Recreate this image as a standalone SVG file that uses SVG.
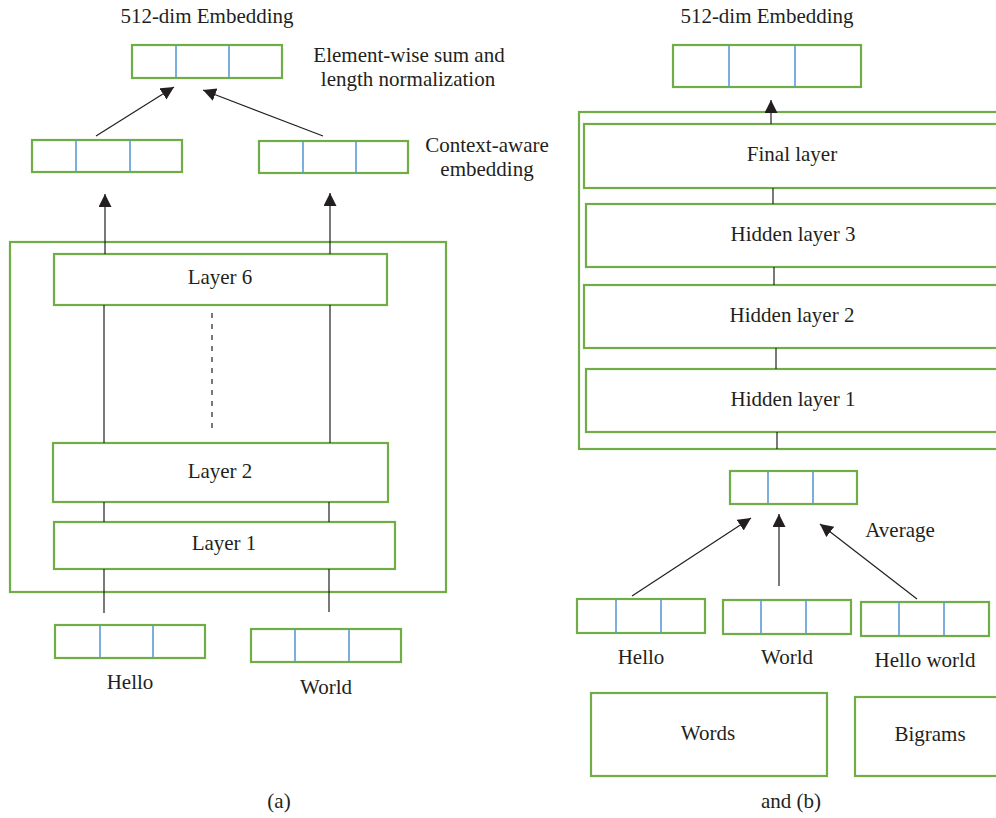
<svg xmlns="http://www.w3.org/2000/svg" width="996" height="818" viewBox="0 0 996 818">
<style>
.g{fill:#fff;stroke:#70ad47;stroke-width:2.2}
.b{stroke:#5b9bd5;stroke-width:1.6}
.c{stroke:#231f20;stroke-width:1.2;fill:none}
.t{font-family:'Liberation Serif','Times New Roman',serif;font-size:21px;fill:#231f20;text-anchor:middle}
</style>
<defs>
<marker id="ah" markerUnits="userSpaceOnUse" markerWidth="15" markerHeight="15" refX="13" refY="6.5" orient="auto">
<path d="M0,0 L13,6.5 L0,13 z" fill="#231f20"/>
</marker>
</defs>
<rect width="996" height="818" fill="#fff"/>

<!-- Left panel -->
<g id="a-outer"><rect class="g" x="10" y="242" width="436" height="350"/></g>
<g id="a-title"><text class="t" x="207" y="23">512-dim Embedding</text></g>
<g id="a-top"><rect class="g" x="132" y="45" width="150" height="33"/><line class="b" x1="176" y1="45" x2="176" y2="78"/><line class="b" x1="229" y1="45" x2="229" y2="78"/></g>
<g id="a-sumlabel"><text class="t" x="409" y="62">Element-wise sum and</text><text class="t" x="408" y="86">length normalization</text></g>
<g id="a-ctx1"><rect class="g" x="32" y="140" width="150" height="32"/><line class="b" x1="76" y1="140" x2="76" y2="172"/><line class="b" x1="130" y1="140" x2="130" y2="172"/></g>
<g id="a-ctx2"><rect class="g" x="259" y="141" width="149" height="32"/><line class="b" x1="303" y1="141" x2="303" y2="173"/><line class="b" x1="356" y1="141" x2="356" y2="173"/></g>
<g id="a-ctxlabel"><text class="t" x="487" y="152">Context-aware</text><text class="t" x="487" y="176">embedding</text></g>
<g id="a-layer6"><rect class="g" x="54" y="254" width="333" height="51"/><text class="t" x="220" y="284">Layer 6</text></g>
<g id="a-layer2"><rect class="g" x="53" y="443" width="335" height="59"/><text class="t" x="220" y="478">Layer 2</text></g>
<g id="a-layer1"><rect class="g" x="54" y="522" width="341" height="47"/><text class="t" x="224" y="550">Layer 1</text></g>
<g id="a-hello"><rect class="g" x="55" y="625" width="150" height="33"/><line class="b" x1="100" y1="625" x2="100" y2="658"/><line class="b" x1="153" y1="625" x2="153" y2="658"/><text class="t" x="130" y="689">Hello</text></g>
<g id="a-world"><rect class="g" x="251" y="629" width="150" height="33"/><line class="b" x1="295" y1="629" x2="295" y2="662"/><line class="b" x1="349" y1="629" x2="349" y2="662"/><text class="t" x="326" y="694">World</text></g>
<g id="a-caption"><text class="t" x="279" y="808">(a)</text></g>

<!-- Right panel -->
<g id="b-title"><text class="t" x="767" y="23">512-dim Embedding</text></g>
<g id="b-top"><rect class="g" x="673" y="45" width="188" height="42"/><line class="b" x1="729" y1="45" x2="729" y2="87"/><line class="b" x1="795" y1="45" x2="795" y2="87"/></g>
<g id="b-outer"><rect class="g" x="579" y="112" width="440" height="337"/></g>
<g id="b-final"><rect class="g" x="584" y="124" width="430" height="64"/><text class="t" x="792" y="161">Final layer</text></g>
<g id="b-h3"><rect class="g" x="586" y="204" width="430" height="63"/><text class="t" x="793" y="241">Hidden layer 3</text></g>
<g id="b-h2"><rect class="g" x="584" y="285" width="430" height="63"/><text class="t" x="792" y="322">Hidden layer 2</text></g>
<g id="b-h1"><rect class="g" x="586" y="369" width="430" height="63"/><text class="t" x="793" y="406">Hidden layer 1</text></g>
<g id="b-avg"><rect class="g" x="730" y="471" width="127" height="33"/><line class="b" x1="768" y1="471" x2="768" y2="504"/><line class="b" x1="813" y1="471" x2="813" y2="504"/></g>
<g id="b-avglabel"><text class="t" x="900" y="537">Average</text></g>
<g id="b-hello"><rect class="g" x="577" y="599" width="128" height="34"/><line class="b" x1="616" y1="599" x2="616" y2="633"/><line class="b" x1="661" y1="599" x2="661" y2="633"/><text class="t" x="641" y="664">Hello</text></g>
<g id="b-world"><rect class="g" x="723" y="600" width="128" height="34"/><line class="b" x1="761" y1="600" x2="761" y2="634"/><line class="b" x1="806" y1="600" x2="806" y2="634"/><text class="t" x="787" y="664">World</text></g>
<g id="b-helloworld"><rect class="g" x="861" y="602" width="128" height="34"/><line class="b" x1="899" y1="602" x2="899" y2="636"/><line class="b" x1="944" y1="602" x2="944" y2="636"/><text class="t" x="925" y="667">Hello world</text></g>
<g id="b-words"><rect class="g" x="591" y="693" width="236" height="83"/><text class="t" x="708" y="740">Words</text></g>
<g id="b-bigrams"><rect class="g" x="855" y="697" width="160" height="79"/><text class="t" x="930" y="741">Bigrams</text></g>
<g id="b-caption"><text class="t" x="791" y="808">and (b)</text></g>

<!-- Connectors -->
<g id="connectors">
<line class="c" x1="96" y1="136" x2="174" y2="87" marker-end="url(#ah)"/>
<line class="c" x1="323" y1="136" x2="203" y2="90" marker-end="url(#ah)"/>
<line class="c" x1="105" y1="254" x2="105" y2="194" marker-end="url(#ah)"/>
<line class="c" x1="330" y1="254" x2="330" y2="193" marker-end="url(#ah)"/>
<line class="c" x1="104" y1="305" x2="104" y2="443"/>
<line class="c" x1="330" y1="305" x2="330" y2="443"/>
<line class="c" x1="212" y1="313" x2="212" y2="428" stroke-dasharray="5 6"/>
<line class="c" x1="104" y1="502" x2="104" y2="522"/>
<line class="c" x1="329" y1="502" x2="329" y2="522"/>
<line class="c" x1="104" y1="569" x2="104" y2="613"/>
<line class="c" x1="329" y1="569" x2="329" y2="612"/>
<line class="c" x1="771" y1="124" x2="771" y2="100" marker-end="url(#ah)"/>
<line class="c" x1="773" y1="188" x2="773" y2="204"/>
<line class="c" x1="774" y1="267" x2="774" y2="285"/>
<line class="c" x1="776" y1="348" x2="776" y2="369"/>
<line class="c" x1="777" y1="432" x2="777" y2="449"/>
<line class="c" x1="632" y1="596" x2="751" y2="518" marker-end="url(#ah)"/>
<line class="c" x1="779" y1="586" x2="779" y2="514" marker-end="url(#ah)"/>
<line class="c" x1="917" y1="599" x2="820" y2="524" marker-end="url(#ah)"/>
</g>
</svg>
